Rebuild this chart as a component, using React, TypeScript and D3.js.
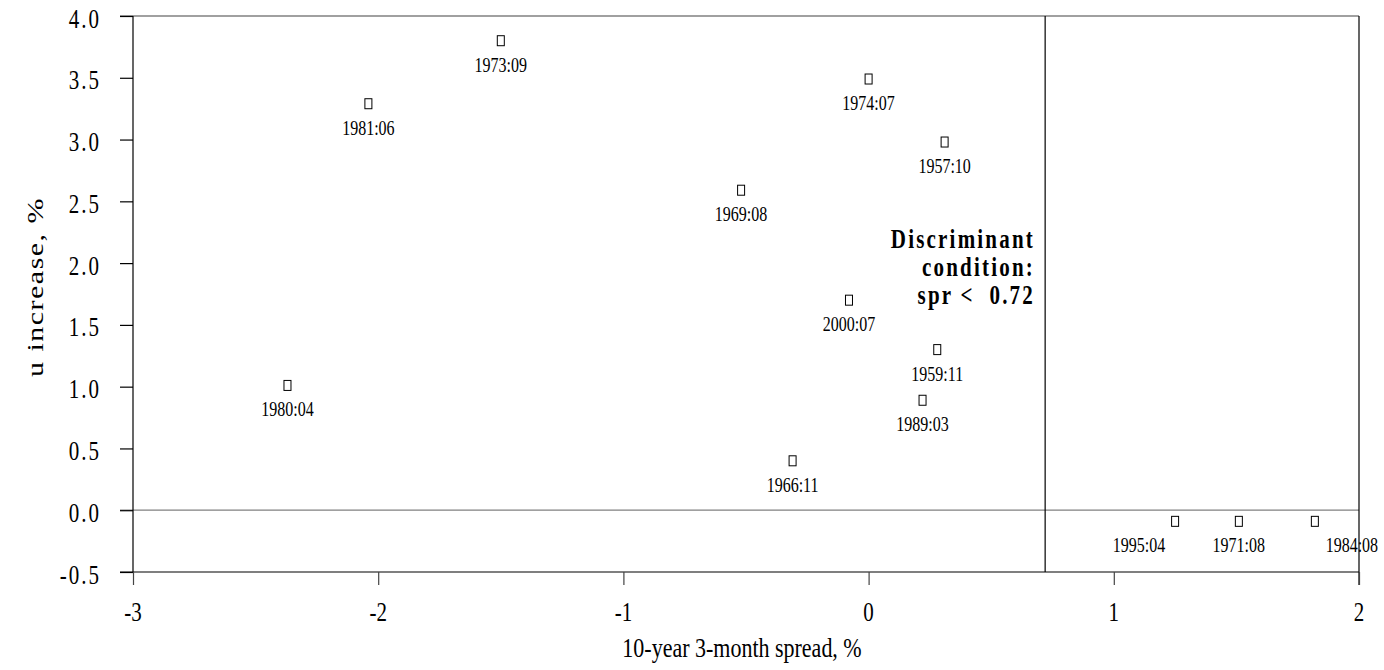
import { useEffect, useRef } from "react"
import * as d3 from "d3"

// recession episodes: yield spread vs subsequent unemployment increase
const periods = ["1973:09", "1981:06", "1974:07", "1957:10", "1969:08", "2000:07", "1959:11", "1980:04", "1989:03", "1966:11", "1995:04", "1971:08", "1984:08"]
const spread = [-1.5, -2.04, 0.0, 0.31, -0.52, -0.08, 0.28, -2.37, 0.22, -0.31, 1.25, 1.51, 1.82]
const uIncrease = [3.8, 3.29, 3.49, 2.98, 2.59, 1.7, 1.3, 1.01, 0.89, 0.4, -0.09, -0.09, -0.09]

const xTicks = [-3, -2, -1, 0, 1, 2]
const yTicks = [-0.5, 0, 0.5, 1, 1.5, 2, 2.5, 3, 3.5, 4]
const threshold = 0.72
const noteLines = ["Discriminant", "condition:", "spr <  0.72"]

const xTitle = "10-year 3-month spread, %"
const yTitle = "u increase, %"

const W = 1384, H = 670
const FONT = "'Liberation Serif', 'Times New Roman', serif"
const SY = 1.25

export default function App() {
    const ref = useRef<SVGSVGElement>(null)

    useEffect(() => {
        const svg = d3.select(ref.current)
        svg.selectAll("*").remove()

        const x = d3.scaleLinear().domain([-3, 2]).range([133, 1359])
        const y = d3.scaleLinear().domain([-0.5, 4]).range([572, 16])

        const g = svg.append("g").attr("font-family", FONT).attr("fill", "#000")

        // frame lines
        g.append("line").attr("x1", 120).attr("x2", x(2)).attr("y1", y(4)).attr("y2", y(4))
            .attr("stroke", "#808080").attr("stroke-width", 1.3)
        g.append("line").attr("x1", 120).attr("x2", x(2)).attr("y1", y(0)).attr("y2", y(0))
            .attr("stroke", "#808080").attr("stroke-width", 1.3)
        g.append("line").attr("x1", x(2)).attr("x2", x(2)).attr("y1", y(4)).attr("y2", y(-0.5) + 13)
            .attr("stroke", "#000").attr("stroke-width", 1.2)
        g.append("line").attr("x1", x(threshold)).attr("x2", x(threshold)).attr("y1", y(4)).attr("y2", y(-0.5))
            .attr("stroke", "#000").attr("stroke-width", 1.2)

        // y axis
        const yAxis = d3.axisLeft(y).tickValues(yTicks).tickSize(13).tickFormat(() => "")
        g.append("g").attr("transform", `translate(${x(-3)},0)`).call(yAxis)
            .call(s => s.selectAll("path,line").attr("stroke", "#000").attr("stroke-width", 1.2))
            .call(s => s.select(".domain").attr("d", `M0,${y(4)}V${y(-0.5)}`))

        g.selectAll(".ytl").data(yTicks).join("text").attr("class", "ytl")
            .attr("transform", d => `translate(101,${y(d) + 11.5}) scale(1,${SY})`)
            .attr("text-anchor", "end").attr("font-size", 21).attr("letter-spacing", 2)
            .text(d => d.toFixed(1))

        // x axis
        const xAxis = d3.axisBottom(x).tickValues(xTicks).tickSize(13).tickFormat(() => "")
        g.append("g").attr("transform", `translate(0,${y(-0.5)})`).call(xAxis)
            .call(s => s.selectAll("line").attr("stroke", "#444").attr("stroke-width", 1.2))
            .call(s => s.select(".domain").attr("stroke", "#000").attr("stroke-width", 1.2)
                .attr("d", `M120,0H${x(2)}`))

        g.selectAll(".xtl").data(xTicks).join("text").attr("class", "xtl")
            .attr("transform", d => `translate(${x(d)},621) scale(1,${SY})`)
            .attr("text-anchor", "middle").attr("font-size", 21)
            .text(d => String(d))

        // axis titles
        g.append("text").attr("transform", `translate(742,657) scale(1,${SY})`)
            .attr("text-anchor", "middle").attr("font-size", 22).text(xTitle)
        g.append("text").attr("transform", `translate(43,287) rotate(-90) scale(${SY},1)`)
            .attr("text-anchor", "middle").attr("font-size", 24).attr("letter-spacing", 1.2).text(yTitle)

        // points
        const pts = periods.map((p, i) => ({ p, sx: spread[i], u: uIncrease[i] }))
        const labelNudge: Record<string, number> = { "1995:04": -36, "1984:08": 37 }

        g.selectAll(".mk").data(pts).join("rect").attr("class", "mk")
            .attr("x", d => x(d.sx) - 3.5).attr("y", d => y(d.u) - 5)
            .attr("width", 7).attr("height", 10)
            .attr("fill", "none").attr("stroke", "#000").attr("stroke-width", 1)

        g.selectAll(".lb").data(pts).join("text").attr("class", "lb")
            .attr("transform", d => `translate(${x(d.sx) + (labelNudge[d.p] || 0)},${y(d.u) + 31}) scale(1,${SY})`)
            .attr("text-anchor", "middle").attr("font-size", 16)
            .text(d => d.p)

        // discriminant note
        g.selectAll(".note").data(noteLines).join("text").attr("class", "note")
            .attr("transform", (d, i) => `translate(1035,${248 + i * 28}) scale(1,${SY})`)
            .attr("text-anchor", "end").attr("font-size", 21).attr("font-weight", "bold")
            .attr("letter-spacing", 2.2).style("white-space", "pre")
            .text(d => d)
    }, [])

    return (
        <svg ref={ref} width={W} height={H}
            style={{ position: "absolute", left: 0, top: 0, background: "#fff" }} />
    )
}
